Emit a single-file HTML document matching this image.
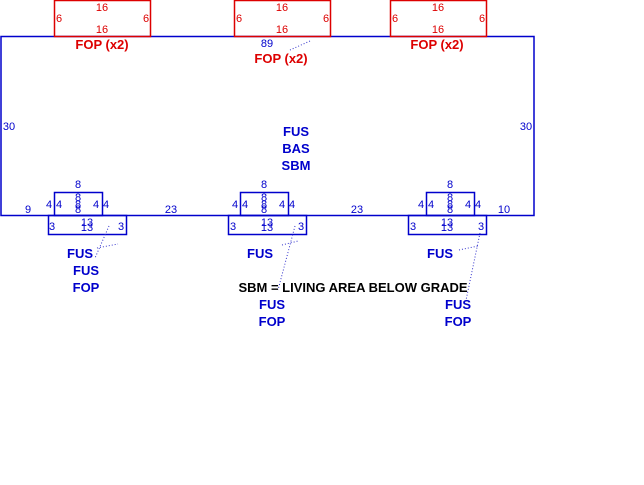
<!DOCTYPE html>
<html><head><style>html,body{margin:0;padding:0;background:#fff;width:644px;height:485px;overflow:hidden}</style></head>
<body>
<svg width="644" height="485" xmlns="http://www.w3.org/2000/svg" style="display:block;font-family:'Liberation Sans',sans-serif">
<g fill="none" stroke-width="1.5">
<rect x="1" y="36.5" width="533" height="179" stroke="#0000cc"/>
<rect x="54.5" y="0.5" width="96" height="36" stroke="#dd0000"/>
<rect x="234.5" y="0.5" width="96" height="36" stroke="#dd0000"/>
<rect x="390.5" y="0.5" width="96" height="36" stroke="#dd0000"/>
<g stroke="#0000cc">
<rect x="54.5" y="192.5" width="48" height="23"/>
<rect x="48.5" y="215.5" width="78" height="19"/>
<rect x="240.5" y="192.5" width="48" height="23"/>
<rect x="228.5" y="215.5" width="78" height="19"/>
<rect x="426.5" y="192.5" width="48" height="23"/>
<rect x="408.5" y="215.5" width="78" height="19"/>
</g>
</g>
<g stroke="#3333cc" stroke-width="1" stroke-dasharray="1,2" fill="none">
<path d="M109 226 L95 258 M97 248 L118 244"/>
<path d="M295 226 L278 290 M282 245 L298 241"/>
<path d="M480 233 L465 305 M459 250 L478 246"/>
<path d="M310 41 L290 50"/>
</g>
<g font-size="11" fill="#dd0000" text-anchor="middle">
<text x="102" y="11">16</text><text x="102" y="33">16</text><text x="59" y="22">6</text><text x="146" y="22">6</text>
<text x="282" y="11">16</text><text x="282" y="33">16</text><text x="239" y="22">6</text><text x="326" y="22">6</text>
<text x="438" y="11">16</text><text x="438" y="33">16</text><text x="395" y="22">6</text><text x="482" y="22">6</text>
</g>
<g font-size="13" font-weight="bold" fill="#dd0000" text-anchor="middle">
<text x="102" y="49">FOP (x2)</text>
<text x="281" y="63">FOP (x2)</text>
<text x="437" y="49">FOP (x2)</text>
</g>
<g font-size="11" fill="#0000cc" text-anchor="middle">
<text x="267" y="47">89</text>
<text x="9" y="130">30</text><text x="526" y="130">30</text>
<text x="28" y="213">9</text><text x="171" y="213">23</text><text x="357" y="213">23</text><text x="504" y="213">10</text>
<text x="78" y="188">8</text><text x="78" y="201">8</text><text x="78" y="208">8</text><text x="78" y="213">8</text>
<text x="49" y="208">4</text><text x="59" y="208">4</text><text x="96" y="208">4</text><text x="106" y="208">4</text>
<text x="52" y="230">3</text><text x="121" y="230">3</text><text x="87" y="226">13</text><text x="87" y="231">13</text>
<text x="264" y="188">8</text><text x="264" y="201">8</text><text x="264" y="208">8</text><text x="264" y="213">8</text>
<text x="235" y="208">4</text><text x="245" y="208">4</text><text x="282" y="208">4</text><text x="292" y="208">4</text>
<text x="233" y="230">3</text><text x="301" y="230">3</text><text x="267" y="226">13</text><text x="267" y="231">13</text>
<text x="450" y="188">8</text><text x="450" y="201">8</text><text x="450" y="208">8</text><text x="450" y="213">8</text>
<text x="421" y="208">4</text><text x="431" y="208">4</text><text x="468" y="208">4</text><text x="478" y="208">4</text>
<text x="413" y="230">3</text><text x="481" y="230">3</text><text x="447" y="226">13</text><text x="447" y="231">13</text>
</g>
<g font-size="13" font-weight="bold" fill="#0000cc" text-anchor="middle">
<text x="296" y="136">FUS</text><text x="296" y="153">BAS</text><text x="296" y="170">SBM</text>
<text x="80" y="258">FUS</text><text x="86" y="275">FUS</text><text x="86" y="292">FOP</text>
<text x="260" y="258">FUS</text>
<text x="272" y="309">FUS</text><text x="272" y="326">FOP</text>
<text x="440" y="258">FUS</text>
<text x="458" y="309">FUS</text><text x="458" y="326">FOP</text>
</g>
<text x="353" y="292" font-size="13" font-weight="bold" fill="#000" text-anchor="middle">SBM = LIVING AREA BELOW GRADE</text>
</svg>
</body></html>
